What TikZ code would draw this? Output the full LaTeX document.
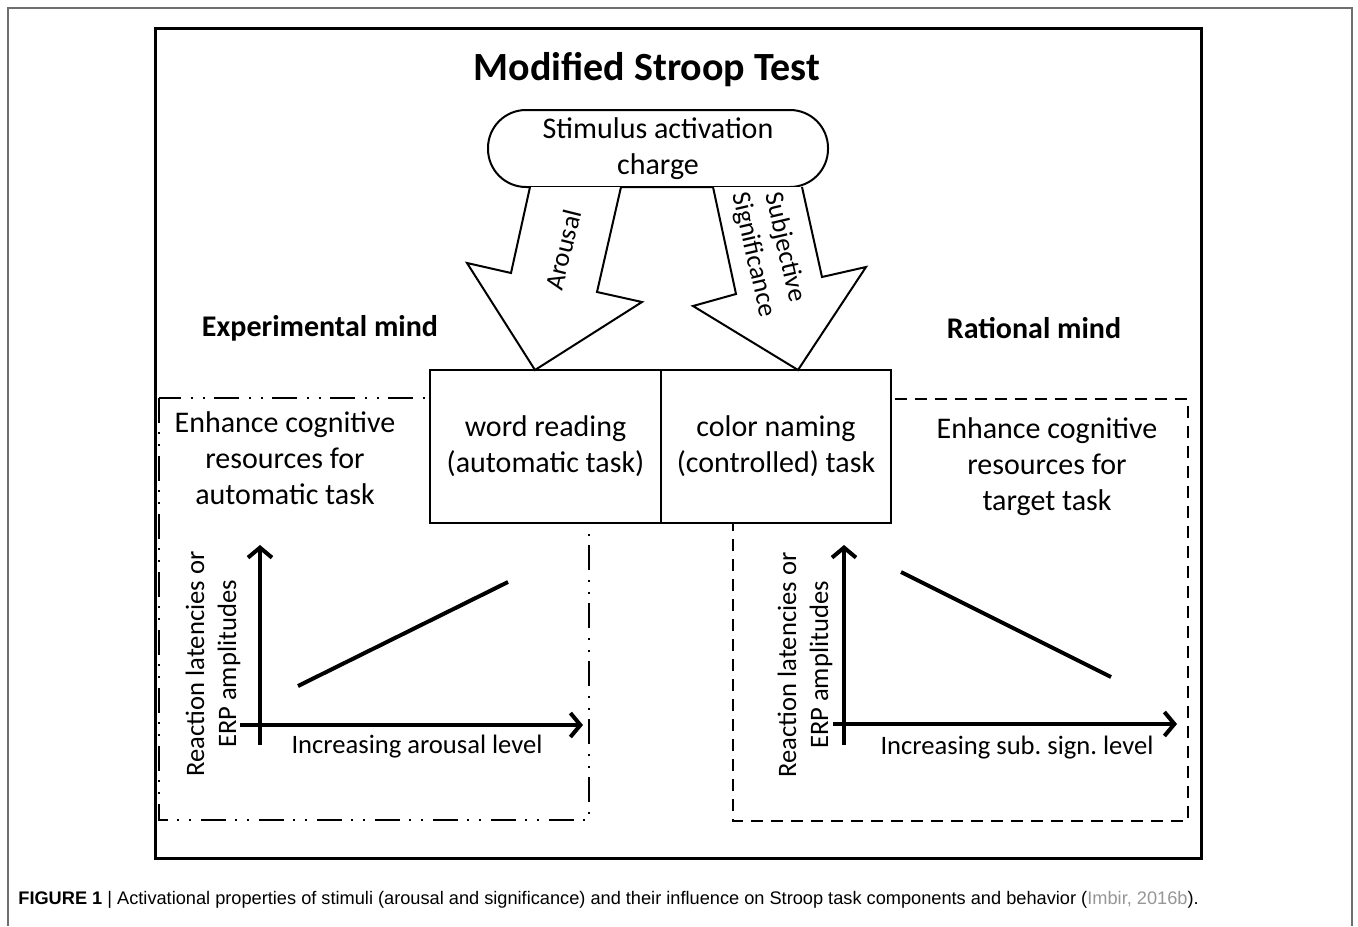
\documentclass[tikz,border=0pt]{standalone}
\usepackage{fontspec}
\setmainfont{Carlito}
\newfontfamily\capfont{Liberation Sans}
\usetikzlibrary{arrows.meta,positioning}
\definecolor{FrameGray}{RGB}{110,110,110}
\definecolor{CiteGray}{RGB}{150,150,150}
\frenchspacing
\tikzset{
  txt/.style={align=center,font=\fontsize{15pt}{18pt}\selectfont},
  lbl/.style={align=center,font=\fontsize{13.3pt}{16pt}\selectfont},
  head/.style={font=\fontsize{15pt}{18pt}\selectfont\bfseries},
  taskbox/.style={draw,line width=1pt,fill=white,minimum height=76.5pt,inner sep=0pt,txt},
  blockarrow/.style={draw,line width=1pt,fill=white,line join=miter},
  axis/.style={line width=2pt,-{Straight Barb[length=5pt,width=12pt]}},
  trend/.style={line width=2pt},
  dashdotdot/.style={line width=1pt,dash pattern=on 12.5pt off 4.5pt on 1pt off 5pt on 1pt off 5pt},
  dashframe/.style={line width=1pt,dash pattern=on 6pt off 4pt}
}
\begin{document}
\begin{tikzpicture}[x=0.5pt,y=-0.5pt]
\useasboundingbox (0,0) rectangle (1358,926);
% frames
\draw[FrameGray,line width=0.6pt] (8,926) |- (1352,8) -- (1352,926);
\draw[line width=1.5pt] (155,28) rectangle (1201,858);
\draw[dashdotdot] (159,398) rectangle (589,820);
\draw[dashframe] (733,399) rectangle (1188,821);
% title and headings
\node[font=\fontsize{20pt}{24pt}\selectfont\bfseries] (title) at (647,70) {Modified Stroop Test};
\node[head] (expmind) at (320,328) {Experimental mind};
\node[head] (ratmind) at (1034,328) {Rational mind};
% stimulus and tasks
\node[draw,line width=1pt,rounded corners=19pt,minimum width=170pt,minimum height=38.5pt,inner sep=0pt,txt] (stim) at (658,148.5) {Stimulus activation\\charge};
\node[taskbox,minimum width=115.5pt] (word) at (545.5,446.5) {word reading\\(automatic task)};
\node[taskbox,minimum width=115pt] (color) at (776,446.5) {color naming\\(controlled) task};
% block arrows from stim to tasks
\draw[blockarrow] (530,187) -- (511,273) -- (467,263) -- (535,370) -- (642,302) -- (597,292) -- (621,187);
\draw[blockarrow] (713,187) -- (736,294) -- (693,306) -- (798,370) -- (866,267) -- (822,277) -- (802,187);
\node[lbl,rotate=76] (arousal) at (563,250) {Arousal};
\node[lbl,rotate=-77] (subsig) at (769,251) {Subjective\\Significance};
% left side
\node[txt] (enhleft) at (285,458) {Enhance cognitive\\resources for\\automatic task};
\draw[axis] (260,745) -- (260,545);
\draw[axis] (240,725) -- (583,725);
\draw[trend] (298,686) -- (508,582);
\node[lbl,rotate=90] (ylabl) at (213,664) {Reaction latencies or\\ERP amplitudes};
\node[lbl] (xlabl) at (417,747) {Increasing arousal level};
% right side
\node[txt] (enhright) at (1047,467) {Enhance cognitive\\resources for\\target task};
\draw[axis] (844,745) -- (844,545);
\draw[axis] (833,724) -- (1177,724);
\draw[trend] (901,572) -- (1111,677);
\node[lbl,rotate=90] (ylabr) at (805,665) {Reaction latencies or\\ERP amplitudes};
\node[lbl] (xlabr) at (1017,748) {Increasing sub. sign. level};
% caption
\node[anchor=west,inner sep=0pt,font=\capfont\fontsize{9.1pt}{11pt}\selectfont] (caption) at (18,900)
  {\textbf{FIGURE 1} | Activational properties of stimuli (arousal and significance) and their influence on Stroop task components and behavior ({\color{CiteGray}Imbir, 2016b}).};
\end{tikzpicture}
\end{document}
